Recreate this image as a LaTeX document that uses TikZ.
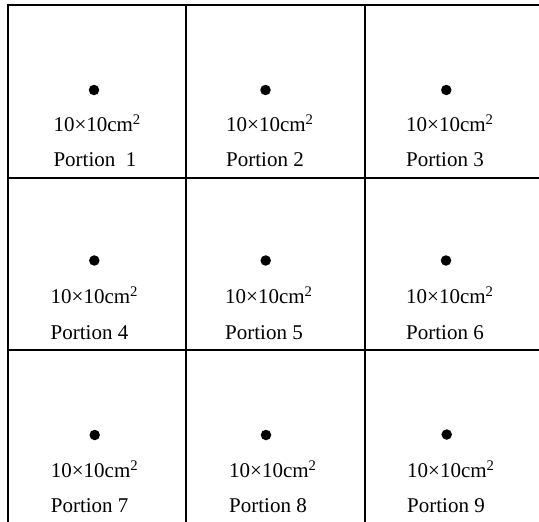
\documentclass[tikz,border=0pt]{standalone}
\usepackage{fontspec}
\setmainfont{Liberation Serif}

\begin{document}
\begin{tikzpicture}[x=1pt, y=-1pt,
  spot/.style={circle, fill=black, inner sep=0pt, minimum size=10.5pt},
  txt/.style={anchor=base west, inner sep=0pt, font=\fontsize{21}{25}\selectfont},
  gridline/.style={line width=2pt}]
\useasboundingbox (0,0) rectangle (539,522);
\draw[gridline] (7.5,522) -- (7.5,4.7) -- (539,4.7);
\draw[gridline] (185.5,4.7) -- (185.5,522);
\draw[gridline] (364.7,4.7) -- (364.7,522);
\draw[gridline] (7.5,177.7) -- (539,177.7);
\draw[gridline] (7.5,350.3) -- (539,350.3);
\node (p1) [spot] at (94,90) {};
\node (p2) [spot] at (265.5,90) {};
\node (p3) [spot] at (446.3,90) {};
\node (p4) [spot] at (94.3,260.5) {};
\node (p5) [spot] at (265.7,260.5) {};
\node (p6) [spot] at (446,260.5) {};
\node (p7) [spot] at (94.7,435) {};
\node (p8) [spot] at (266,435) {};
\node (p9) [spot] at (446.7,434.5) {};
\node (a1) [txt] at (53.3,131.7) {10×10cm\textsuperscript{2}};
\node (n1) [txt] at (53.3,166.7) {Portion\ \ 1};
\node (a2) [txt] at (226,131.7) {10×10cm\textsuperscript{2}};
\node (n2) [txt] at (226,166.7) {Portion 2};
\node (a3) [txt] at (406,131.7) {10×10cm\textsuperscript{2}};
\node (n3) [txt] at (406,166.7) {Portion 3};
\node (a4) [txt] at (50.5,303.7) {10×10cm\textsuperscript{2}};
\node (n4) [txt] at (50.5,339.2) {Portion 4};
\node (a5) [txt] at (225,303.7) {10×10cm\textsuperscript{2}};
\node (n5) [txt] at (225,339.2) {Portion 5};
\node (a6) [txt] at (406,303.7) {10×10cm\textsuperscript{2}};
\node (n6) [txt] at (406,339.2) {Portion 6};
\node (a7) [txt] at (50.7,477.7) {10×10cm\textsuperscript{2}};
\node (n7) [txt] at (50.7,512.7) {Portion 7};
\node (a8) [txt] at (229,477.7) {10×10cm\textsuperscript{2}};
\node (n8) [txt] at (229,512.7) {Portion 8};
\node (a9) [txt] at (407,477.7) {10×10cm\textsuperscript{2}};
\node (n9) [txt] at (407,512.7) {Portion 9};
\end{tikzpicture}
\end{document}
